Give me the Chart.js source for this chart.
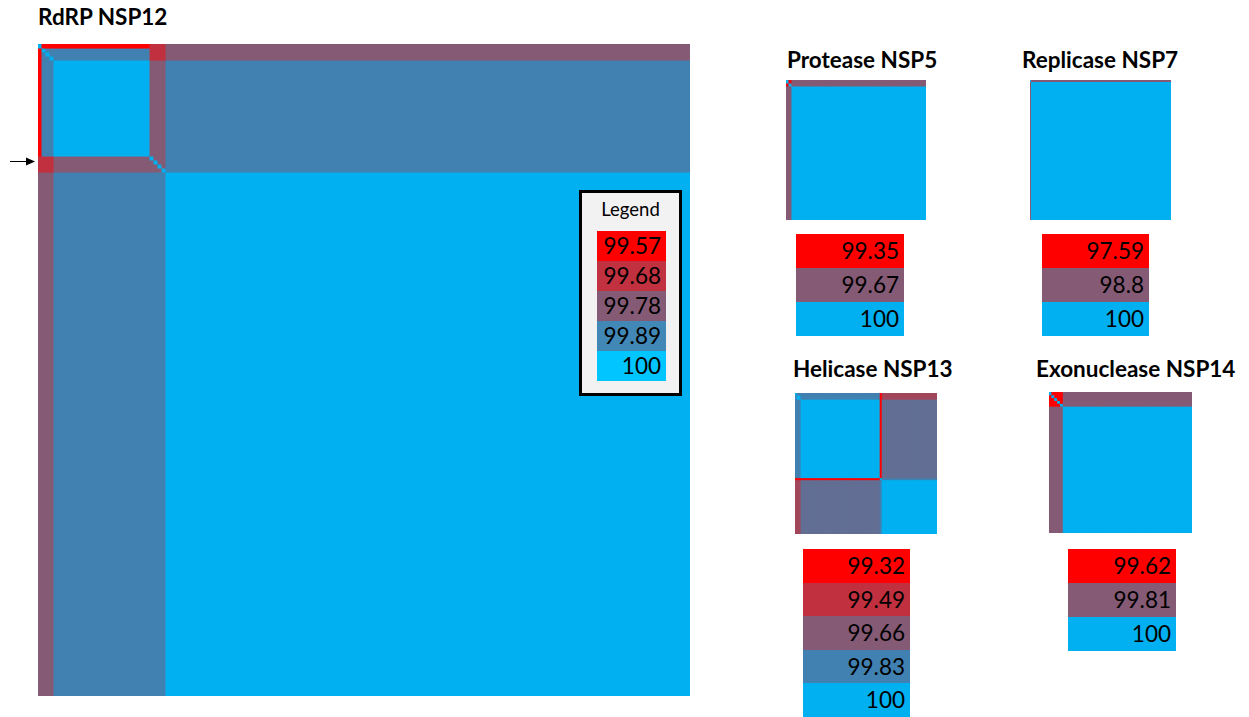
<!DOCTYPE html>
<html>
<head>
<meta charset="utf-8">
<script src="https://cdn.jsdelivr.net/npm/chart.js@4.4.1/dist/chart.umd.min.js"></script>
<style>
body{margin:0;background:#fff;width:1249px;height:717px;overflow:hidden;position:relative;font-family:Lato,"Open Sans",sans-serif}
.title{position:absolute;font-weight:bold;font-size:22.5px;line-height:22.5px;color:#000;white-space:nowrap}
canvas{position:absolute}
.leg{position:absolute}
.leg div{text-align:right;color:#000;box-sizing:border-box;padding-right:5px;font-size:22.5px}
#legbox{position:absolute;left:579px;top:190px;width:103px;height:206px;border:3px solid #000;background:#f2f2f2;box-sizing:border-box}
#legbox span{position:absolute;left:0;right:0;top:7px;line-height:19px;text-align:center;font-size:18.5px}
</style>
</head>
<body>
<div class="title" style="left:38px;top:6px">RdRP NSP12</div>
<div class="title" style="left:787px;top:49px">Protease NSP5</div>
<div class="title" style="left:1022px;top:49px">Replicase NSP7</div>
<div class="title" style="left:793px;top:358px">Helicase NSP13</div>
<div class="title" style="left:1036px;top:358px">Exonuclease NSP14</div>

<canvas id="c12" width="700" height="676" style="left:0;top:30px"></canvas>
<div id="legbox"><span>Legend</span></div>
<div class="leg" id="l12" style="left:597px;top:231px;width:69px"></div>

<canvas id="c5" width="140" height="140" style="left:786px;top:80px"></canvas>
<div class="leg" id="l5" style="left:796px;top:234px;width:108px"></div>

<canvas id="c7" width="141" height="140" style="left:1030px;top:80px"></canvas>
<div class="leg" id="l7" style="left:1042px;top:234px;width:107px"></div>

<canvas id="c13" width="142" height="141" style="left:795px;top:393px"></canvas>
<div class="leg" id="l13" style="left:803px;top:549px;width:107px"></div>

<canvas id="c14" width="143" height="141" style="left:1049px;top:392px"></canvas>
<div class="leg" id="l14" style="left:1068px;top:549px;width:108px"></div>

<script>
// ---- data ----
// each matrix is split into clusters of sequences (sizes = number of sequences),
// values = % identity between clusters (diagonal = 100)

// RdRP NSP12
const nsp12Sizes = [1, 1, 1, 1, 24, 1, 1, 1, 1, 131];
const nsp12Values = [
  [100, 99.57, 99.57, 99.57, 99.57, 99.68, 99.68, 99.68, 99.68, 99.78],
  [99.57, 100, 99.89, 99.89, 99.89, 99.68, 99.68, 99.68, 99.68, 99.78],
  [99.57, 99.89, 100, 99.89, 99.89, 99.68, 99.68, 99.68, 99.68, 99.78],
  [99.57, 99.89, 99.89, 100, 99.89, 99.68, 99.68, 99.68, 99.68, 99.78],
  [99.57, 99.89, 99.89, 99.89, 100, 99.78, 99.78, 99.78, 99.78, 99.89],
  [99.68, 99.68, 99.68, 99.68, 99.78, 100, 99.78, 99.78, 99.78, 99.89],
  [99.68, 99.68, 99.68, 99.68, 99.78, 99.78, 100, 99.78, 99.78, 99.89],
  [99.68, 99.68, 99.68, 99.68, 99.78, 99.78, 99.78, 100, 99.78, 99.89],
  [99.68, 99.68, 99.68, 99.68, 99.78, 99.78, 99.78, 99.78, 100, 99.89],
  [99.78, 99.78, 99.78, 99.78, 99.89, 99.89, 99.89, 99.89, 99.89, 100]
];
const nsp12Legend = [99.57, 99.68, 99.78, 99.89, 100];
const nsp12Arrow = 29.25; // row the arrow points at

// Protease NSP5
const nsp5Sizes = [1, 1, 45];
const nsp5Values = [
  [100, 99.35, 99.67],
  [99.35, 100, 99.67],
  [99.67, 99.67, 100]
];
const nsp5Legend = [99.35, 99.67, 100];

// Replicase NSP7
const nsp7Sizes = [1, 94];
const nsp7Values = [
  [100, 98.8],
  [98.8, 100]
];
const nsp7Legend = [97.59, 98.8, 100];

// Helicase NSP13
const nsp13Sizes = [1, 2, 39, 1, 27];
const nsp13Values = [
  [100, 99.83, 99.83, 99.32, 99.58],
  [99.83, 100, 99.83, 99.32, 99.58],
  [99.83, 99.83, 100, 99.32, 99.745],
  [99.32, 99.32, 99.32, 100, 99.83],
  [99.58, 99.58, 99.745, 99.83, 100]
];
const nsp13Legend = [99.32, 99.49, 99.66, 99.83, 100];

// Exonuclease NSP14
const nsp14Sizes = [1, 1, 1, 1, 1, 45];
const nsp14Values = [
  [100, 99.62, 99.62, 99.62, 99.62, 99.81],
  [99.62, 100, 99.62, 99.62, 99.62, 99.81],
  [99.62, 99.62, 100, 99.62, 99.62, 99.81],
  [99.62, 99.62, 99.62, 100, 99.62, 99.81],
  [99.62, 99.62, 99.62, 99.62, 100, 99.81],
  [99.81, 99.81, 99.81, 99.81, 99.81, 100]
];
const nsp14Legend = [99.62, 99.81, 100];

// ---- colours ----
const RED = '#ff0000', CRIMSON = '#c1303e', PURPLE = '#845a75', STEEL = '#4181b1', CYAN = '#00b0f0';
const col5 = [RED, CRIMSON, PURPLE, STEEL, CYAN];
const col3 = [RED, PURPLE, CYAN];

function hex(c) { return [1, 3, 5].map(i => parseInt(c.substr(i, 2), 16)); }

function colorFor(v, stops, colors) {
  if (v <= stops[0]) return colors[0];
  for (let i = 0; i < stops.length - 1; i++) {
    if (v <= stops[i + 1]) {
      const t = (v - stops[i]) / (stops[i + 1] - stops[i]);
      const a = hex(colors[i]), b = hex(colors[i + 1]);
      return 'rgb(' + a.map((x, k) => Math.round(x + (b[k] - x) * t)).join(',') + ')';
    }
  }
  return colors[colors.length - 1];
}

function heatmap(id, sizes, values, stops, colors, padding, plugins) {
  const labels = [], colUnit = [];
  sizes.forEach((s, u) => { for (let k = 0; k < s; k++) { labels.push(labels.length + 1); colUnit.push(u); } });
  const n = labels.length;
  let start = 0;
  const datasets = sizes.map((s, u) => {
    const y0 = start, y1 = start + s;
    start = y1;
    return {
      data: colUnit.map(() => [y0, y1]),
      backgroundColor: colUnit.map(cu => colorFor(values[u][cu], stops, colors)),
      borderWidth: 0,
      grouped: false,
      barPercentage: 1,
      categoryPercentage: 1,
      inflateAmount: 0.5 // avoid hairline seams between cells
    };
  });
  return new Chart(document.getElementById(id), {
    type: 'bar',
    data: { labels: labels, datasets: datasets },
    options: {
      responsive: false,
      animation: false,
      layout: { padding: padding || 0 },
      plugins: { legend: { display: false }, tooltip: { enabled: false } },
      scales: {
        x: { display: false },
        y: { display: false, min: 0, max: n, reverse: true }
      }
    },
    plugins: plugins || []
  });
}

const arrowPlugin = {
  id: 'arrow',
  afterDraw(chart) {
    const ctx = chart.ctx;
    const y = Math.round(chart.scales.y.getPixelForValue(nsp12Arrow)) + 0.5;
    const xEnd = chart.chartArea.left - 3;
    ctx.save();
    ctx.strokeStyle = '#000';
    ctx.lineWidth = 1;
    ctx.beginPath();
    ctx.moveTo(10, y);
    ctx.lineTo(xEnd - 6, y);
    ctx.stroke();
    ctx.fillStyle = '#000';
    ctx.beginPath();
    ctx.moveTo(xEnd, y);
    ctx.lineTo(xEnd - 9, y - 4);
    ctx.lineTo(xEnd - 9, y + 4);
    ctx.closePath();
    ctx.fill();
    ctx.restore();
  }
};

heatmap('c12', nsp12Sizes, nsp12Values, nsp12Legend, col5, { left: 38, top: 14, right: 10, bottom: 10 }, [arrowPlugin]);
heatmap('c5', nsp5Sizes, nsp5Values, nsp5Legend, col3);
heatmap('c7', nsp7Sizes, nsp7Values, nsp7Legend, col3);
heatmap('c13', nsp13Sizes, nsp13Values, nsp13Legend, col5);
heatmap('c14', nsp14Sizes, nsp14Values, nsp14Legend, col3);

// ---- legend tables ----
function legend(id, vals, colors, h) {
  const el = document.getElementById(id);
  vals.forEach((v, i) => {
    const d = document.createElement('div');
    d.style.background = colors[i];
    d.style.height = h + 'px';
    d.style.lineHeight = h + 'px';
    d.textContent = String(v);
    el.appendChild(d);
  });
}
legend('l12', nsp12Legend, ['#ff0000', '#c1313f', '#845a75', '#4188b7', '#00c5ff'], 30);
legend('l5', nsp5Legend, col3, 34);
legend('l7', nsp7Legend, col3, 34);
legend('l13', nsp13Legend, col5, 33.5);
legend('l14', nsp14Legend, col3, 34);
</script>
</body>
</html>
